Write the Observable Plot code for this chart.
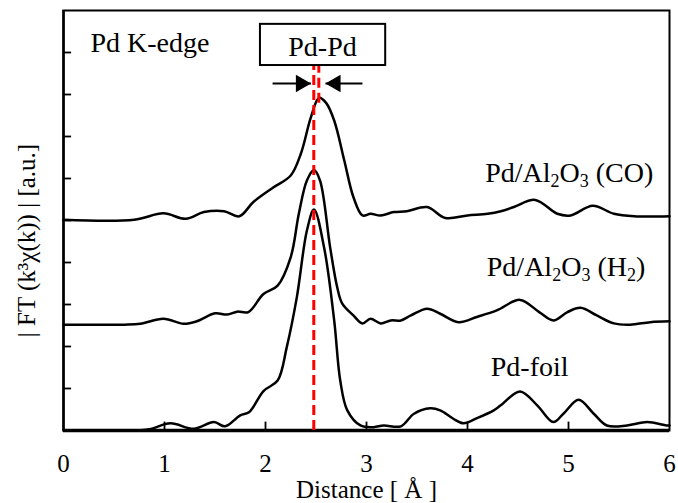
<!DOCTYPE html>
<html><head><meta charset="utf-8">
<script src="https://cdn.jsdelivr.net/npm/d3@7"></script>
<script src="https://cdn.jsdelivr.net/npm/@observablehq/plot@0.6"></script>
<style>body{margin:0;background:#fff} #chart{width:678px;height:503px}</style>
</head><body><div id="chart"></div>
<script>
// Pd-foil
const distFoil = [0, 0.7, 0.85, 1.06, 1.29, 1.49, 1.60, 1.75, 1.84, 1.98, 2.12, 2.21, 2.31, 2.41, 2.48, 2.58, 2.68, 2.74, 2.81, 2.94, 3.07, 3.17, 3.34, 3.47, 3.63, 3.73, 3.86, 3.96, 4.10, 4.26, 4.33, 4.52, 4.69, 4.85, 4.95, 5.10, 5.25, 5.38, 5.58, 5.78, 5.97, 6.0];
const ftFoil   = [0, 0, 0.03, 0.17, 0.04, 0.20, 0.10, 0.36, 0.44, 0.94, 1.19, 1.98, 3.17, 4.76, 5.26, 4.36, 2.62, 1.19, 0.48, 0.12, 0.08, 0.12, 0.10, 0.40, 0.53, 0.48, 0.28, 0.17, 0.30, 0.48, 0.60, 0.93, 0.60, 0.20, 0.40, 0.73, 0.40, 0.12, 0.12, 0.20, 0.12, 0.12];
// Pd/Al2O3 (H2)
const distH2 = [0, 0.6, 0.76, 0.99, 1.19, 1.32, 1.50, 1.62, 1.72, 1.83, 1.98, 2.12, 2.25, 2.33, 2.41, 2.48, 2.54, 2.64, 2.71, 2.76, 2.87, 2.96, 3.04, 3.14, 3.24, 3.34, 3.44, 3.60, 3.73, 3.91, 4.10, 4.29, 4.52, 4.71, 4.85, 4.99, 5.12, 5.28, 5.45, 5.61, 5.81, 6.0];
const ftH2   = [2.52, 2.52, 2.54, 2.66, 2.54, 2.60, 2.79, 2.76, 2.83, 2.82, 3.25, 3.45, 4.13, 5.16, 5.95, 6.20, 5.95, 4.36, 3.41, 3.02, 2.74, 2.55, 2.66, 2.55, 2.62, 2.62, 2.74, 2.90, 2.78, 2.58, 2.71, 2.86, 3.11, 2.82, 2.62, 2.82, 2.92, 2.74, 2.55, 2.52, 2.58, 2.60];
// Pd/Al2O3 (CO)
const distCO = [0, 0.70, 0.99, 1.21, 1.39, 1.59, 1.74, 1.88, 2.08, 2.25, 2.35, 2.45, 2.53, 2.60, 2.68, 2.78, 2.87, 2.96, 3.04, 3.14, 3.27, 3.40, 3.60, 3.78, 4.0, 4.20, 4.33, 4.46, 4.67, 4.89, 5.02, 5.24, 5.45, 5.65, 6.0];
const ftCO   = [5.02, 5.02, 5.17, 5.04, 5.20, 5.22, 5.10, 5.44, 5.79, 6.07, 6.59, 7.46, 7.92, 7.80, 7.38, 6.43, 5.56, 5.12, 5.16, 5.12, 5.20, 5.22, 5.32, 5.06, 5.12, 5.16, 5.22, 5.32, 5.49, 5.16, 5.12, 5.35, 5.16, 5.10, 5.10];

const xTickLabels = [0, 1, 2, 3, 4, 5, 6];
const xInnerTicks = [1, 2, 3, 4, 5];
const yInnerTicks = [1, 2, 3, 4, 5, 6, 7, 8, 9];

// annotations (data units)
const peakLineX  = [2.478, 2.528];
const peakLineY1 = [0, 7.79];
const peakLineY2 = [8.69, 8.69];
const boxX = [1.95, 3.19], boxY = [8.69, 9.67];
const arrowFromX = [2.07, 2.96], arrowToX = [2.45, 2.594], arrowY = 8.26;

const startLabels = [{x: 0.267, y: 9.22, t: "Pd K-edge"}, {x: 4.23, y: 1.52, t: "Pd-foil"}];
const endLabels = [{x: 5.84, y: 6.12, t: "Pd/Al_2O_3 (CO)"}, {x: 5.76, y: 3.90, t: "Pd/Al_2O_3 (H_2)"}];
const boxLabel = [{x: 2.564, y: 9.14, t: "Pd-Pd"}];
const xLabel = "Distance [ Å ]";
const yLabel = "| FT (k³χ(k)) | [a.u.]";

const series = [
  {name: "Pd-foil", x: distFoil, y: ftFoil},
  {name: "H2", x: distH2, y: ftH2},
  {name: "CO", x: distCO, y: ftCO}
];
const rows = series.flatMap(s => s.x.map((d, i) => ({series: s.name, distance: d, ft: s.y[i]})));
const peakLines = peakLineX.map((x, i) => ({x, y1: peakLineY1[i], y2: peakLineY2[i]}));
const box = [{x1: boxX[0], x2: boxX[1], y1: boxY[0], y2: boxY[1]}];
const arrows = arrowFromX.map((x1, i) => ({x1, x2: arrowToX[i], y: arrowY}));

const FONT = "'Liberation Serif', 'Times New Roman', serif";

const plot = Plot.plot({
  width: 678, height: 503,
  marginLeft: 63, marginRight: 9, marginTop: 10, marginBottom: 73,
  style: {fontFamily: FONT, fontSize: "25px", background: "#fff", color: "#000", overflow: "visible"},
  x: {domain: [0, 6], ticks: xTickLabels, tickSize: 0, tickPadding: 24, tickFormat: d => String(d), label: null},
  y: {domain: [0, 10], axis: null},
  marks: [
    Plot.frame({stroke: "#000", strokeWidth: 2}),
    Plot.ruleY([0], {stroke: "#000", strokeWidth: 3.5}),
    Plot.ruleX([0], {stroke: "#000", strokeWidth: 2.5}),
    Plot.ruleX(xInnerTicks, {x: d => d, y1: 0, y2: 0.2, stroke: "#000", strokeWidth: 1.8}),
    Plot.ruleY(yInnerTicks, {y: d => d, x1: 0, x2: 0.08, stroke: "#000", strokeWidth: 1.8}),
    Plot.line(rows, {x: "distance", y: "ft", z: "series", curve: "catmull-rom", stroke: "#000", strokeWidth: 2.5}),
    Plot.ruleX(peakLines, {x: "x", y1: "y1", y2: "y2", stroke: "#ff0000", strokeWidth: 3, strokeDasharray: "10,5"}),
    Plot.rect(box, {x1: "x1", x2: "x2", y1: "y1", y2: "y2", fill: "#fff", stroke: "#000", strokeWidth: 2}),
    Plot.text(boxLabel, {x: "x", y: "y", text: "t", fontSize: 28, fontFamily: FONT, fill: "#000"}),
    Plot.link(arrows, {x1: "x1", x2: "x2", y1: "y", y2: "y", stroke: "#000", strokeWidth: 2}),
    Plot.dot(arrows.slice(0, 1), {x: "x2", y: "y", symbol: "triangle", r: 6.5, fill: "#000", stroke: null, rotate: 90, dx: -10}),
    Plot.dot(arrows.slice(1, 2), {x: "x2", y: "y", symbol: "triangle", r: 6.5, fill: "#000", stroke: null, rotate: -90, dx: 10}),
    Plot.text(startLabels, {x: "x", y: "y", text: "t", textAnchor: "start", fontSize: 28, fontFamily: FONT, fill: "#000"}),
    Plot.text(endLabels, {x: "x", y: "y", text: "t", textAnchor: "end", fontSize: 28, fontFamily: FONT, fill: "#000"}),
    Plot.text([xLabel], {frameAnchor: "bottom", text: d => d, textAnchor: "middle", lineAnchor: "bottom", dy: 67, fontSize: 25, fontFamily: FONT, fill: "#000"}),
    Plot.text([yLabel], {frameAnchor: "left", text: d => d, textAnchor: "middle", rotate: -90, dx: -37, dy: 20, fontSize: 25, fontFamily: FONT, fill: "#000"})
  ]
});

// render subscripts written as _X
d3.select(plot).selectAll("text").each(function() {
  const el = d3.select(this);
  const s = this.textContent;
  if (!s.includes("_") || this.children.length) return;
  el.text(null);
  const parts = s.split(/(_.)/).filter(p => p.length);
  let shifted = false;
  parts.forEach(p => {
    if (p[0] === "_") {
      el.append("tspan").attr("font-size", 18).attr("dy", shifted ? 0 : 5).text(p[1]);
      shifted = true;
    } else {
      const t = el.append("tspan").text(p);
      if (shifted) { t.attr("dy", -5); shifted = false; }
    }
  });
});

document.getElementById("chart").appendChild(plot);
</script>
</body></html>
